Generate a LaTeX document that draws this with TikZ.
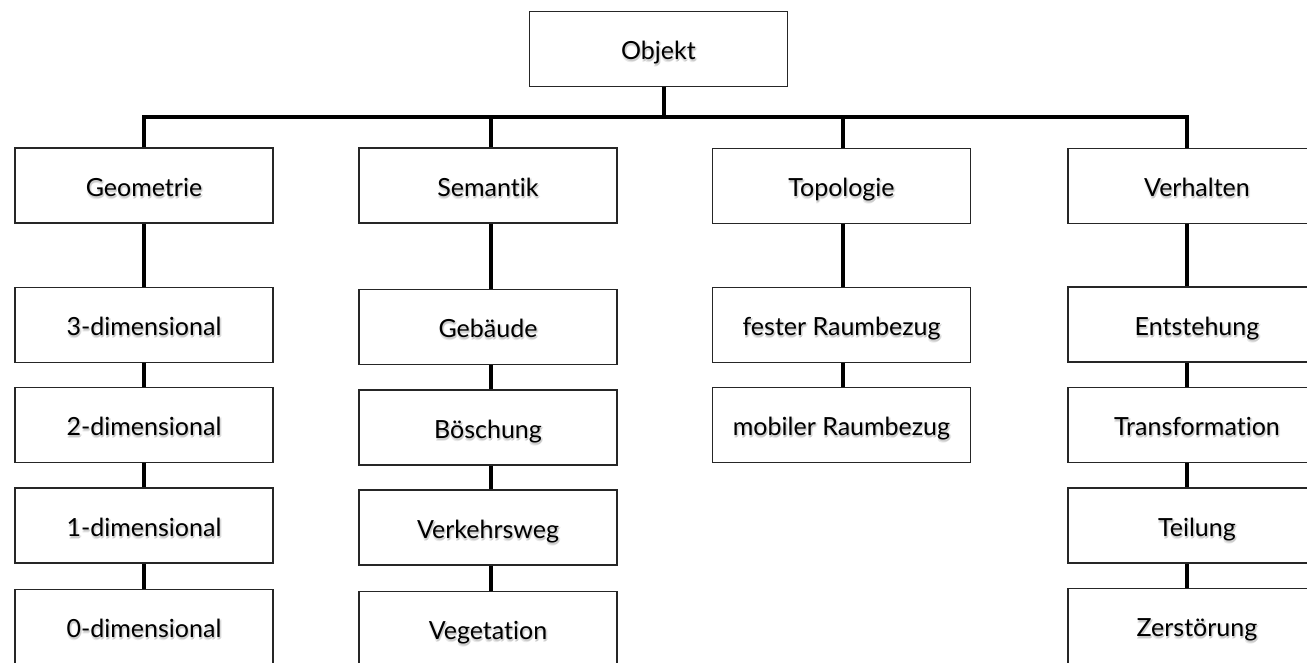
\documentclass[tikz,border=0pt]{standalone}
\usepackage{fontspec}
\setmainfont{Lato}[Ligatures={NoCommon,NoRequired,NoDiscretionary}]
\newcommand\shcopy[4]{\rlap{\smash{\kern#1\raisebox{#2}{\textcolor{#3}{#4}}}}}
\newcommand\shtext[1]{%
  \shcopy{0pt}{-3pt}{black!9}{#1}\shcopy{2pt}{-1pt}{black!9}{#1}%
  \shcopy{1pt}{-2pt}{black!20}{#1}%
  #1}
\begin{document}
\begin{tikzpicture}[x=1pt,y=-1pt,
  box/.style={draw=black!85, line width=1.6pt, fill=white,
    minimum width=258pt, minimum height=75pt, inner sep=0pt,
    text height=24pt, text depth=3pt,
    font=\fontsize{25}{30}\selectfont, text=black},
  conn/.style={line width=4pt, draw=black}]
\useasboundingbox (0,0) rectangle (1307,662);
% column axes
\coordinate (xo) at (664,0);
\coordinate (xg) at (144,0);
\coordinate (xs) at (491,0);
\coordinate (xt) at (843,0);
\coordinate (xv) at (1187,0);
\coordinate (bus) at (0,117);
% top
\node[box] (obj) at (658.5,49) {\shtext{Objekt}};
% categories
\node[box] (geo) at (144,185.5) {\shtext{Geometrie}};
\node[box] (sem) at (488,185.5) {\shtext{Semantik}};
\node[box] (top) at (841.5,186) {\shtext{Topologie}};
\node[box] (ver) at (1197,186) {\shtext{Verhalten}};
% Geometrie
\node[box] (g3) at (144,325) {\shtext{3-dimensional}};
\node[box] (g2) at (144,425) {\shtext{2-dimensional}};
\node[box] (g1) at (144,525.5) {\shtext{1-dimensional}};
\node[box] (g0) at (144,627) {\shtext{0-dimensional}};
% Semantik
\node[box] (s1) at (488,327) {\shtext{Gebäude}};
\node[box] (s2) at (488,427.5) {\shtext{Böschung}};
\node[box] (s3) at (488,527.5) {\shtext{Verkehrsweg}};
\node[box] (s4) at (488,629) {\shtext{Vegetation}};
% Topologie
\node[box] (t1) at (841.5,325) {\shtext{fester Raumbezug}};
\node[box] (t2) at (841.5,425) {\shtext{mobiler Raumbezug}};
% Verhalten
\node[box] (v1) at (1197,324.5) {\shtext{Entstehung}};
\node[box] (v2) at (1197,425) {\shtext{Transformation}};
\node[box] (v3) at (1197,525.5) {\shtext{Teilung}};
\node[box] (v4) at (1197,626) {\shtext{Zerstörung}};
% connectors
\draw[conn] (xo |- obj.south) -- (xo |- bus);
\draw[conn] (xg |- geo.north) -- (xg |- bus) -- (xv |- bus) -- (xv |- ver.north);
\draw[conn] (xs |- bus) -- (xs |- sem.north);
\draw[conn] (xt |- bus) -- (xt |- top.north);
\draw[conn] (xg |- geo.south) -- (xg |- g3.north);
\draw[conn] (xg |- g3.south) -- (xg |- g2.north);
\draw[conn] (xg |- g2.south) -- (xg |- g1.north);
\draw[conn] (xg |- g1.south) -- (xg |- g0.north);
\draw[conn] (xs |- sem.south) -- (xs |- s1.north);
\draw[conn] (xs |- s1.south) -- (xs |- s2.north);
\draw[conn] (xs |- s2.south) -- (xs |- s3.north);
\draw[conn] (xs |- s3.south) -- (xs |- s4.north);
\draw[conn] (xt |- top.south) -- (xt |- t1.north);
\draw[conn] (xt |- t1.south) -- (xt |- t2.north);
\draw[conn] (xv |- ver.south) -- (xv |- v1.north);
\draw[conn] (xv |- v1.south) -- (xv |- v2.north);
\draw[conn] (xv |- v2.south) -- (xv |- v3.north);
\draw[conn] (xv |- v3.south) -- (xv |- v4.north);
\end{tikzpicture}
\end{document}
